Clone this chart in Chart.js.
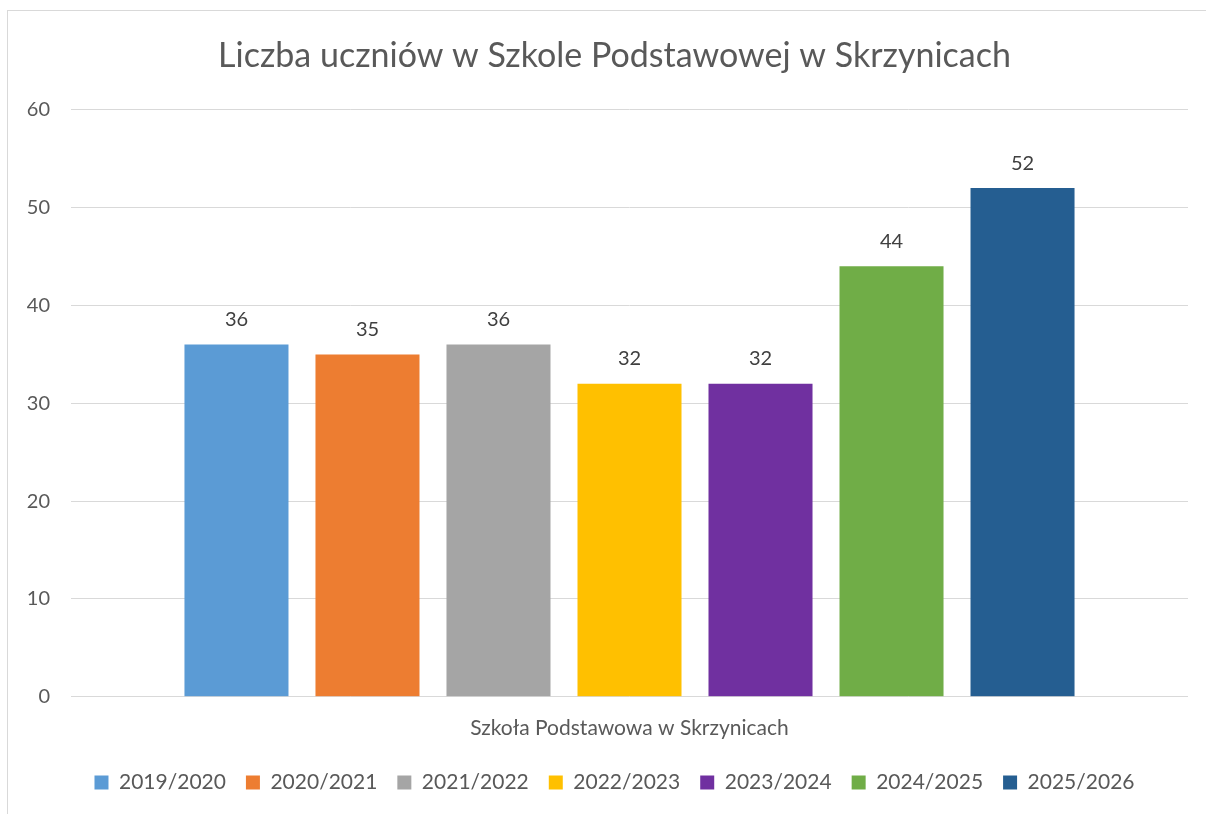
<!DOCTYPE html>
<html lang="pl">
<head>
  <meta charset="UTF-8">
  <title>Liczba uczniów</title>
  <script src="https://cdn.jsdelivr.net/npm/chart.js"></script>
  <style>
    body { margin: 0; background: #fff; overflow: hidden; }
    #box {
      position: absolute; left: 7px; top: 10px;
      width: 1220px; height: 820px;
      border-left: 1px solid #d9d9d9; border-top: 1px solid #d9d9d9;
    }
    #wrap { width: 1213px; height: 803px; }
  </style>
</head>
<body>
  <div id="box"><div id="wrap"><canvas id="chart"></canvas></div></div>
  <script>
    const category = ['Szkoła Podstawowa w Skrzynicach'];
    const years = ['2019/2020', '2020/2021', '2021/2022', '2022/2023', '2023/2024', '2024/2025', '2025/2026'];
    const pupils = [36, 35, 36, 32, 32, 44, 52];
    const colors = ['#5B9BD5', '#ED7D31', '#A5A5A5', '#FFC000', '#7030A0', '#70AD47', '#255E91'];

    // value labels above each bar
    const barLabels = {
      id: 'barLabels',
      afterDatasetsDraw(chart) {
        const ctx = chart.ctx;
        ctx.save();
        ctx.font = '20px Lato';
        ctx.fillStyle = '#404040';
        ctx.textAlign = 'center';
        ctx.textBaseline = 'middle';
        chart.data.datasets.forEach((ds, i) => {
          const bar = chart.getDatasetMeta(i).data[0];
          ctx.fillText(ds.data[0], bar.x, bar.y - 25);
        });
        ctx.restore();
      }
    };

    new Chart(document.getElementById('chart'), {
      type: 'bar',
      data: {
        labels: category,
        datasets: years.map((y, i) => ({
          label: y,
          data: [pupils[i]],
          backgroundColor: colors[i]
        }))
      },
      options: {
        responsive: true,
        maintainAspectRatio: false,
        animation: false,
        categoryPercentage: 0.821,
        barPercentage: 0.794,
        layout: { padding: { top: 25, right: 0, left: 0, bottom: 11 } },
        plugins: {
          title: {
            display: true,
            text: 'Liczba uczniów w Szkole Podstawowej w Skrzynicach',
            color: '#595959',
            font: { family: 'Lato', size: 34, weight: 'normal' },
            padding: { top: 0, bottom: 33 }
          },
          legend: {
            position: 'bottom',
            labels: {
              color: '#595959',
              font: { family: 'Lato', size: 21 },
              boxWidth: 14, boxHeight: 14,
              padding: 20
            }
          },
          tooltip: { enabled: false }
        },
        scales: {
          x: {
            grid: { display: false },
            border: { display: false },
            ticks: { color: '#595959', font: { family: 'Lato', size: 21 }, padding: 11 }
          },
          y: {
            min: 0, max: 60,
            ticks: { stepSize: 10, color: '#595959', font: { family: 'Lato', size: 20 }, padding: 21 },
            grid: { color: '#d9d9d9', drawTicks: false },
            border: { display: false },
            afterFit(s) { s.width = 63; }
          },
          // empty right margin, keeps the title centred on the whole chart
          gap: {
            position: 'right',
            grid: { display: false },
            ticks: { display: false },
            border: { display: false },
            afterFit(s) { s.width = 33; }
          }
        }
      },
      plugins: [barLabels]
    });
  </script>
</body>
</html>
